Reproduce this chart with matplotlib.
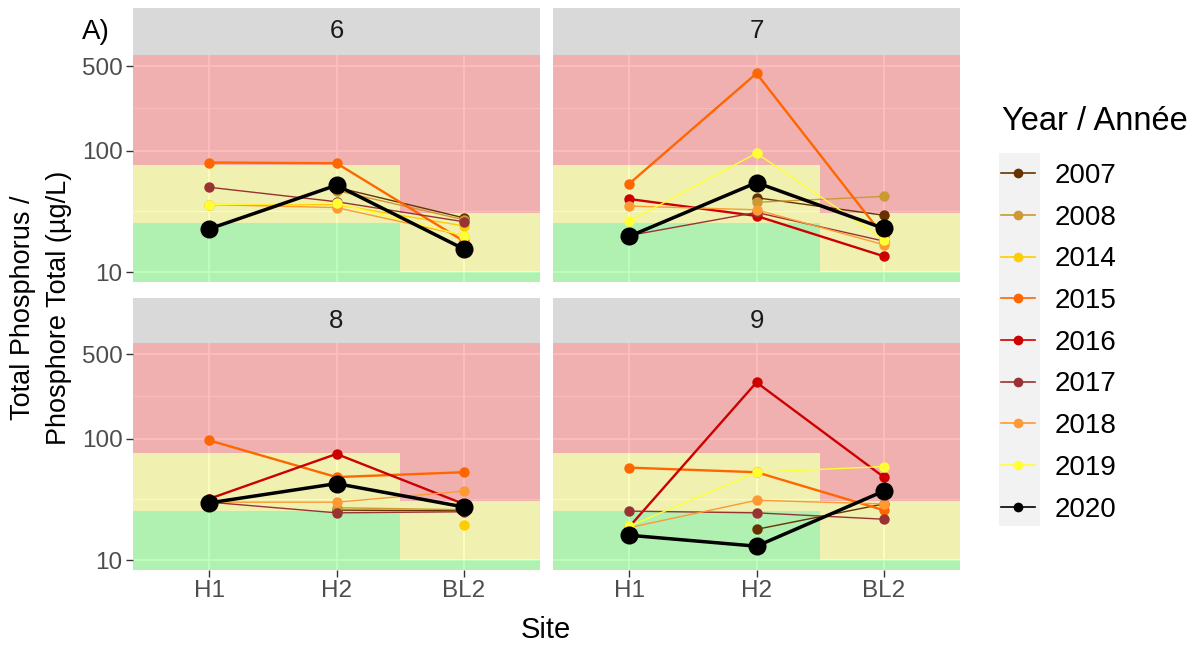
import numpy as np
import matplotlib
matplotlib.use('Agg')
import matplotlib.pyplot as plt
from matplotlib.lines import Line2D
from matplotlib.patches import Rectangle
from matplotlib.ticker import FixedLocator, NullFormatter

plt.rcParams['font.family'] = ['Liberation Sans', 'DejaVu Sans']

nan = np.nan
sites = ['H1', 'H2', 'BL2']
years = ['2007', '2008', '2014', '2015', '2016', '2017', '2018', '2019', '2020']
colors = ['#663300', '#CC9933', '#FFCC00', '#FF6600', '#CC0000',
          '#993333', '#FF9933', '#FFFF33', '#000000']
months = ['6', '7', '8', '9']

# total phosphorus (ug/L) per year, values at H1, H2, BL2
tp_m6 = {'2007': [nan, 50, 28], '2008': [nan, 47, 27], '2014': [36, 36, 24],
         '2015': [80, 79, 18], '2016': [nan, nan, nan], '2017': [50, 38, 26],
         '2018': [36, 34, 20], '2019': [36, 37, 20], '2020': [22.7, 52, 15.5]}
tp_m7 = {'2007': [nan, 41, 29.4], '2008': [nan, 37.6, 42], '2014': [nan, nan, nan],
         '2015': [53.6, 435, 19.7], '2016': [40, 29, 13.5], '2017': [20, 31, 18],
         '2018': [35, 32.6, 16.8], '2019': [26.3, 95.5, 18.5], '2020': [19.7, 54.6, 22.9]}
tp_m8 = {'2007': [nan, 25.8, 25.5], '2008': [nan, 27, 26], '2014': [nan, nan, 19.4],
         '2015': [97, 48.3, 53], '2016': [32, 75, 29], '2017': [30, 24.5, 25],
         '2018': [30, 30, 37], '2019': [nan, nan, nan], '2020': [29.6, 42.7, 27.4]}
tp_m9 = {'2007': [nan, 17.9, 29], '2008': [nan, nan, nan], '2014': [nan, nan, nan],
         '2015': [57.8, 53, 25.8], '2016': [18.8, 292, 48.4], '2017': [25.3, 24.5, 21.7],
         '2018': [18.5, 31.1, 29], '2019': [19, 53, 59], '2020': [16, 13, 37]}
tp_by_month = [tp_m6, tp_m7, tp_m8, tp_m9]

# trophic thresholds: (green top, yellow top) for H1/H2 and for BL2
thr_h = [25.5, 77]
thr_bl = [10, 30.5]

W, H = 1202, 647
fig = plt.figure(figsize=(W / 100, H / 100), dpi=100)

col_x = [133, 553]
pan_w = 407
row_y = [(55, 282), (343, 570)]
strip_top = [8, 298]

ylo, yhi = 8.27, 617
xlo, xhi = -0.6, 2.6

for i, month in enumerate(months):
    r, c = divmod(i, 2)
    top, bot = row_y[r]
    ax = fig.add_axes([col_x[c] / W, 1 - bot / H, pan_w / W, (bot - top) / H])
    ax.set_facecolor('#EBEBEB')
    ax.set_yscale('log')
    ax.set_xlim(xlo, xhi)
    ax.set_ylim(ylo, yhi)

    # trophic background zones
    ax.fill_between([xlo, 1.5], ylo, thr_h[0], color='#00FF00', alpha=0.25, lw=0)
    ax.fill_between([xlo, 1.5], thr_h[0], thr_h[1], color='#FFFF00', alpha=0.25, lw=0)
    ax.fill_between([xlo, 1.5], thr_h[1], yhi, color='#FF0000', alpha=0.25, lw=0)
    ax.fill_between([1.5, xhi], ylo, thr_bl[0], color='#00FF00', alpha=0.25, lw=0)
    ax.fill_between([1.5, xhi], thr_bl[0], thr_bl[1], color='#FFFF00', alpha=0.25, lw=0)
    ax.fill_between([1.5, xhi], thr_bl[1], yhi, color='#FF0000', alpha=0.25, lw=0)

    ax.set_axisbelow(True)
    ax.yaxis.set_major_locator(FixedLocator([10, 100, 500]))
    ax.yaxis.set_minor_locator(FixedLocator([10 ** 1.5, 10 ** 2.35]))
    ax.yaxis.set_minor_formatter(NullFormatter())
    ax.set_yticklabels(['10', '100', '500'])
    ax.set_xticks(range(3))
    ax.set_xticklabels(sites)
    ax.grid(which='major', color='white', lw=1.2)
    ax.grid(which='minor', axis='y', color='white', lw=0.6)
    ax.tick_params(which='minor', length=0)
    ax.tick_params(which='major', length=5, width=1.0, color='#333333',
                   labelcolor='#4D4D4D', labelsize=17.5, pad=2.5)
    if c == 1:
        ax.tick_params(axis='y', length=0, labelleft=False)
    if r == 0:
        ax.tick_params(axis='x', length=0, labelbottom=False)
    for s in ax.spines.values():
        s.set_visible(False)

    data = tp_by_month[i]
    for yr, col in zip(years, colors):
        vals = np.array(data[yr], dtype=float)
        x = np.arange(3)
        ok = ~np.isnan(vals)
        if yr == '2020':
            lw, ms = 2.5, 13
        elif yr in ('2015', '2016'):
            lw, ms = 1.7, 7.5
        else:
            lw, ms = 1.0, 7.5
        ax.plot(x[ok], vals[ok], '-o', color=col, lw=lw, ms=ms, mew=0, zorder=3)

    # strip
    sax = fig.add_axes([col_x[c] / W, 1 - top / H, pan_w / W, (top - strip_top[r]) / H])
    sax.set_facecolor('#D9D9D9')
    sax.set_xticks([])
    sax.set_yticks([])
    for s in sax.spines.values():
        s.set_visible(False)
    sax.text(0.5, 0.5, month, ha='center', va='center', fontsize=18.5, color='#1A1A1A',
             transform=sax.transAxes)

fig.text(96 / W, 1 - 32 / H, 'A)', fontsize=20, ha='center', va='center', color='black')
fig.text(546 / W, 1 - 630 / H, 'Site', fontsize=21, ha='center', va='center')
fig.text(41 / W, 1 - 308 / H, 'Total Phosphorus /\nPhosphore Total (µg/L)', fontsize=19.5,
         rotation=90, ha='center', va='center', multialignment='center', linespacing=1.45)

# legend
fig.text(1002 / W, 1 - 122 / H, 'Year / Année', fontsize=23.5, ha='left', va='center')
fig.patches.append(Rectangle((999 / W, 1 - 526 / H), 41 / W, 373 / H, transform=fig.transFigure,
                             facecolor='#F2F2F2', edgecolor='none', zorder=0))
handles = [Line2D([], [], color=col, lw=1.2, marker='o', ms=7, mew=0)
           for yr, col in zip(years, colors)]
leg = fig.legend(handles, years, loc='upper left', bbox_to_anchor=(1001 / W, 1 - 163 / H),
                 frameon=False, fontsize=20,
                 handlelength=1.22, handletextpad=0.72, labelspacing=0.565, borderpad=0,
                 borderaxespad=0)

fig.savefig('out.png', dpi=100)
